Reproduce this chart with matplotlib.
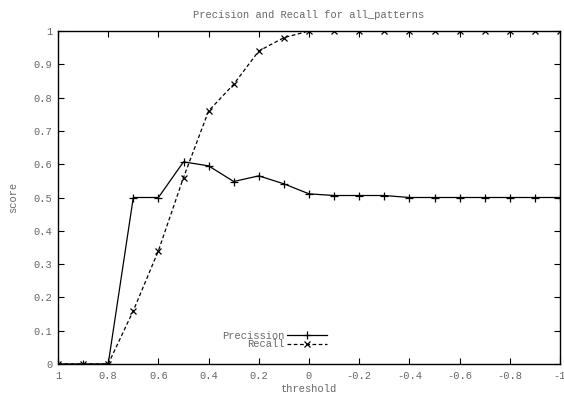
import numpy as np
import matplotlib.pyplot as plt

plt.rcParams['font.family'] = 'Liberation Mono'
plt.rcParams['axes.unicode_minus'] = False

threshold = [1.0, 0.9, 0.8, 0.7, 0.6, 0.5, 0.4, 0.3, 0.2, 0.1, 0.0,
             -0.1, -0.2, -0.3, -0.4, -0.5, -0.6, -0.7, -0.8, -0.9, -1.0]
precision = [0, 0, 0, 0.5, 0.5, 0.607, 0.595, 0.548, 0.565, 0.541, 0.511,
             0.506, 0.506, 0.506, 0.5, 0.5, 0.5, 0.5, 0.5, 0.5, 0.5]
recall = [0, 0, 0, 0.16, 0.34, 0.56, 0.76, 0.84, 0.94, 0.98, 1.0,
          1.0, 1.0, 1.0, 1.0, 1.0, 1.0, 1.0, 1.0, 1.0, 1.0]

xticks = [1, 0.8, 0.6, 0.4, 0.2, 0, -0.2, -0.4, -0.6, -0.8, -1]
xticklabels = ['1', '0.8', '0.6', '0.4', '0.2', '0', '-0.2', '-0.4', '-0.6', '-0.8', '-1']
yticks = [0, 0.1, 0.2, 0.3, 0.4, 0.5, 0.6, 0.7, 0.8, 0.9, 1]
yticklabels = ['0', '0.1', '0.2', '0.3', '0.4', '0.5', '0.6', '0.7', '0.8', '0.9', '1']

txt = '#666666'
fs = 7.5

fig = plt.figure(figsize=(5.64, 3.98), dpi=100)
ax = fig.add_axes([58/564, 34/398, 502/564, 333/398])

ax.plot(threshold, precision, color='black', lw=0.9, marker='+', ms=6, mew=0.9,
        label='Precission')
ax.plot(threshold, recall, color='black', lw=0.9, ls=(0, (3, 2)), marker='x', ms=4.5,
        mew=0.9, label='Recall')

ax.set_xlim(1, -1)
ax.set_ylim(0, 1)
ax.set_xticks(xticks)
ax.set_xticklabels(xticklabels)
ax.set_yticks(yticks)
ax.set_yticklabels(yticklabels)
ax.tick_params(direction='in', length=4, width=0.8, top=True, right=True,
               labelsize=fs, labelcolor=txt)
ax.tick_params(axis='x', pad=5)
ax.tick_params(axis='y', pad=4)
for s in ax.spines.values():
    s.set_linewidth(1.0)

ax.set_title('Precision and Recall for all_patterns', fontsize=fs, color=txt, pad=9)
ax.set_xlabel('threshold', fontsize=fs, color=txt, labelpad=2)
ax.set_ylabel('score', fontsize=fs, color=txt, labelpad=11)

leg = ax.legend(loc='center right', bbox_to_anchor=(0.536, 0.072), frameon=False,
                markerfirst=False, fontsize=fs, handlelength=3.8, handletextpad=0.3,
                labelspacing=-0.15, borderpad=0, borderaxespad=0)
for t in leg.get_texts():
    t.set_color(txt)
    t.set_ha('right')

fig.savefig('out.png', dpi=100)
